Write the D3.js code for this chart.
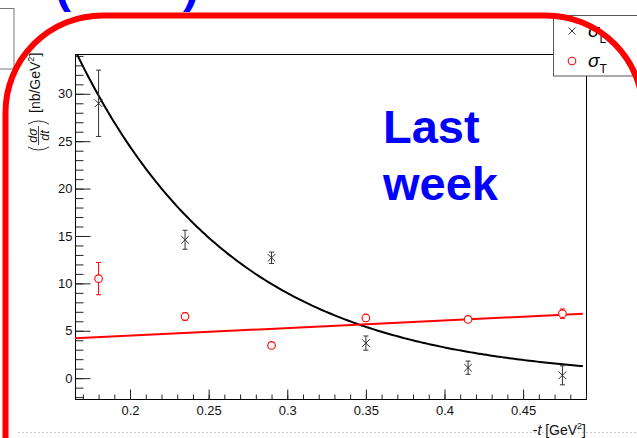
<!DOCTYPE html>
<html><head><meta charset="utf-8">
<script src="https://cdn.jsdelivr.net/npm/d3@7"></script>
<style>html,body{margin:0;padding:0;background:#fff;overflow:hidden}svg{display:block;font-family:"Liberation Sans",Arial,sans-serif}</style>
</head><body><svg id="c" width="637" height="438"></svg>
<script>
// ---- data ----
const tValues   = [0.18, 0.235, 0.29, 0.35, 0.415, 0.475];
const sigmaL    = [29.0, 14.6, 12.7, 3.7, 1.1, 0.3];
const sigmaLErr = [3.5, 1.0, 0.6, 0.75, 0.7, 1.0];
const sigmaT    = [10.5, 6.5, 3.45, 6.35, 6.2, 6.8];
const sigmaTErr = [1.7, 0.4, 0.3, 0.35, 0.3, 0.5];
const xTickLabels = [0.2, 0.25, 0.3, 0.35, 0.4, 0.45];
const yTickLabels = [0, 5, 10, 15, 20, 25, 30];
const legendLabels = ["L", "T"];
// fit curves: sigma_L ~ A*exp(-B t)+C ; sigma_T ~ a + b t
const fitLParams = [178, 9.9, -0.15];
const fitTParams = [2.88, 8.0];
const fitRange = [0.165, 0.488];

const svg = d3.select("#c");
const W = 637, H = 438;
const L = 75, R = 586, T = 54, B = 399;
const x = d3.scaleLinear().domain([0.165, 0.49]).range([L, R]);
const y = d3.scaleLinear().domain([-2.2, 34.2]).range([B, T]);

// faint dotted line near bottom
svg.append("line").attr("x1", 18).attr("x2", W).attr("y1", 432.5).attr("y2", 432.5)
  .attr("stroke", "#c8c8c8").attr("stroke-width", 1).attr("stroke-dasharray", "2,2");

// small box top-left
svg.append("rect").attr("x", -2).attr("y", 8.5).attr("width", 16).attr("height", 60.5)
  .attr("fill", "none").attr("stroke", "#777").attr("stroke-width", 1);

// partial blue title (only parentheses visible, rest above the page edge)
svg.append("text").attr("x", 55).attr("y", 2).attr("fill", "#0000ff")
  .attr("font-weight", "bold").attr("font-size", 48).text("(");
svg.append("text").attr("x", 183).attr("y", 2).attr("fill", "#0000ff")
  .attr("font-weight", "bold").attr("font-size", 48).text(")");

// frame
svg.append("rect").attr("x", L + 0.5).attr("y", T + 0.5).attr("width", R - L).attr("height", B - T)
  .attr("fill", "#fff").attr("stroke", "#000").attr("stroke-width", 1);

// axes
const minorY = d3.range(-2, 35, 1);
const minorX = d3.range(17, 50, 1).map(d => d / 100);
const gy = svg.append("g").attr("transform", `translate(${L + 0.5},0)`);
gy.call(d3.axisLeft(y).tickValues(minorY).tickSizeInner(-8).tickSizeOuter(0).tickFormat(""));
gy.append("g").call(d3.axisLeft(y).tickValues(yTickLabels).tickSizeInner(-15).tickSizeOuter(0).tickPadding(3).tickFormat(d3.format("d")));
const gx = svg.append("g").attr("transform", `translate(0,${B + 0.5})`);
gx.call(d3.axisBottom(x).tickValues(minorX).tickSizeInner(-5).tickSizeOuter(0).tickFormat(""));
gx.append("g").call(d3.axisBottom(x).tickValues(xTickLabels).tickSizeInner(-10).tickSizeOuter(0).tickPadding(6).tickFormat(d => String(d)));
svg.selectAll(".domain").remove();
svg.selectAll(".tick line").attr("stroke", "#222");
svg.selectAll(".tick text").attr("font-size", 13).attr("fill", "#111").attr("font-family", "Liberation Sans, Arial, sans-serif");

// axis titles
const xt = svg.append("text").attr("x", R).attr("y", 435).attr("text-anchor", "end")
  .attr("font-size", 14).attr("fill", "#111");
xt.append("tspan").text("-");
xt.append("tspan").attr("font-style", "italic").text("t");
xt.append("tspan").text(" [GeV");
xt.append("tspan").attr("font-size", 9).attr("dy", -6).text("2");
xt.append("tspan").attr("dy", 6).text("]");

const yt = svg.append("g").attr("transform", "translate(40,152) rotate(-90)").attr("fill", "#111");
yt.append("path").attr("d", "M5,-12 Q-1,-1.5 5,9").attr("fill", "none").attr("stroke", "#333").attr("stroke-width", 1);
yt.append("path").attr("d", "M28,-12 Q34,-1.5 28,9").attr("fill", "none").attr("stroke", "#333").attr("stroke-width", 1);
yt.append("text").attr("x", 16.5).attr("y", -3.2).attr("text-anchor", "middle").attr("font-size", 12.5).attr("font-style", "italic").text("dσ");
yt.append("line").attr("x1", 7).attr("x2", 26).attr("y1", -1.5).attr("y2", -1.5).attr("stroke", "#333").attr("stroke-width", 0.9);
yt.append("text").attr("x", 16.5).attr("y", 8.6).attr("text-anchor", "middle").attr("font-size", 12.5).attr("font-style", "italic").text("dt");
const ytt = yt.append("text").attr("x", 39).attr("y", 0).attr("font-size", 14);
ytt.append("tspan").text("[nb/GeV");
ytt.append("tspan").attr("font-size", 9).attr("dy", -6).text("2");
ytt.append("tspan").attr("dy", 6).text("]");

// clip
svg.append("clipPath").attr("id", "pc").append("rect").attr("x", L).attr("y", T).attr("width", R - L).attr("height", B - T);
const plot = svg.append("g").attr("clip-path", "url(#pc)");

// fit curves
const samp = d3.range(0, 201).map(i => fitRange[0] + (fitRange[1] - fitRange[0]) * i / 200);
const line = d3.line().x(d => x(d[0])).y(d => y(d[1]));
plot.append("path").datum(samp.map(t => [t, fitLParams[0] * Math.exp(-fitLParams[1] * t) + fitLParams[2]]))
  .attr("d", line).attr("fill", "none").attr("stroke", "#000").attr("stroke-width", 2);
plot.append("path").datum(fitRange.map(t => [t, fitTParams[0] + fitTParams[1] * t]))
  .attr("d", line).attr("fill", "none").attr("stroke", "#f00").attr("stroke-width", 2);

// error bars + markers
function errBars(vals, errs, color) {
  const g = plot.append("g").attr("stroke", color).attr("stroke-width", 1).attr("fill", "none");
  tValues.forEach((t, i) => {
    const cx = x(t), y1 = y(vals[i] + errs[i]), y2 = y(vals[i] - errs[i]);
    g.append("line").attr("x1", cx).attr("x2", cx).attr("y1", y1).attr("y2", y2);
    g.append("line").attr("x1", cx - 2.5).attr("x2", cx + 2.5).attr("y1", y1).attr("y2", y1);
    g.append("line").attr("x1", cx - 2.5).attr("x2", cx + 2.5).attr("y1", y2).attr("y2", y2);
  });
  return g;
}
const gL = errBars(sigmaL, sigmaLErr, "#333");
tValues.forEach((t, i) => {
  const cx = x(t), cy = y(sigmaL[i]), s = 3.8;
  gL.append("path").attr("d", `M${cx - s},${cy - s}L${cx + s},${cy + s}M${cx - s},${cy + s}L${cx + s},${cy - s}`);
});
const gT = errBars(sigmaT, sigmaTErr, "#f00");
tValues.forEach((t, i) => {
  gT.append("circle").attr("cx", x(t)).attr("cy", y(sigmaT[i])).attr("r", 3.8).attr("fill", "#fff").attr("stroke-width", 1.1);
});

// "Last week" annotation
const lw = svg.append("text").attr("fill", "#0000ff").attr("font-weight", "bold").attr("font-size", 47);
lw.append("tspan").attr("x", 383).attr("y", 143).text("Last");
lw.append("tspan").attr("x", 383).attr("y", 200).text("week");

// legend
const lg = svg.append("g");
lg.append("rect").attr("x", 553.5).attr("y", 15.5).attr("width", 100).attr("height", 60.5)
  .attr("fill", "#fff").attr("stroke", "#555").attr("stroke-width", 1);
const s = 3.5, mx = 572, my1 = 31, my2 = 61;
lg.append("path").attr("d", `M${mx - s},${my1 - s}L${mx + s},${my1 + s}M${mx - s},${my1 + s}L${mx + s},${my1 - s}`)
  .attr("stroke", "#333").attr("stroke-width", 1);
lg.append("circle").attr("cx", mx).attr("cy", my2).attr("r", 3.8).attr("fill", "none").attr("stroke", "#f00").attr("stroke-width", 1.1);
[my1, my2].forEach((my, i) => {
  const t = lg.append("text").attr("x", 588).attr("y", my + 6).attr("fill", "#000");
  t.append("tspan").attr("font-size", 19).attr("font-style", "italic").text("σ");
  t.append("tspan").attr("font-size", 12).attr("dy", 6).text(legendLabels[i]);
});

// big red rounded frame (drawn on top)
svg.append("rect").attr("x", 5.5).attr("y", 15.5).attr("width", 637.5).attr("height", 700).attr("rx", 97).attr("ry", 97)
  .attr("fill", "none").attr("stroke", "#ff0000").attr("stroke-width", 6);
</script></body></html>
